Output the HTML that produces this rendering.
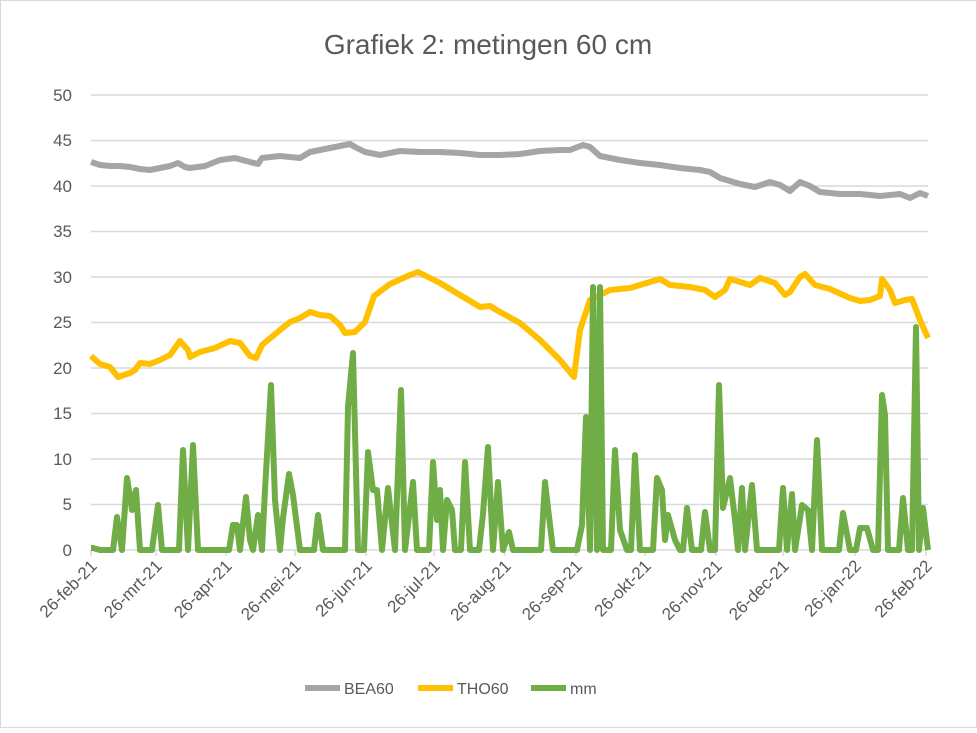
<!DOCTYPE html>
<html><head><meta charset="utf-8"><style>
body{margin:0;background:#fff}
svg text{font-family:"Liberation Sans",sans-serif;fill:#595959}
</style></head><body>
<svg width="977" height="728" viewBox="0 0 977 728" xmlns="http://www.w3.org/2000/svg">
<rect x="0.5" y="0.5" width="976" height="727" fill="#fff" stroke="#d9d9d9"/>
<text x="488" y="54" font-size="28" text-anchor="middle">Grafiek 2: metingen 60 cm</text>
<g stroke="#d9d9d9" stroke-width="1.5">
<line x1="91" x2="928" y1="95" y2="95"/><line x1="91" x2="928" y1="140.5" y2="140.5"/>
<line x1="91" x2="928" y1="186" y2="186"/><line x1="91" x2="928" y1="231.5" y2="231.5"/>
<line x1="91" x2="928" y1="277" y2="277"/><line x1="91" x2="928" y1="322.5" y2="322.5"/>
<line x1="91" x2="928" y1="368" y2="368"/><line x1="91" x2="928" y1="413.5" y2="413.5"/>
<line x1="91" x2="928" y1="459" y2="459"/><line x1="91" x2="928" y1="504.5" y2="504.5"/>
<line x1="91" x2="928" y1="550" y2="550"/>
</g>
<g stroke="#d9d9d9" stroke-width="1.5">
<line x1="91" x2="91" y1="550" y2="556"/><line x1="156" x2="156" y1="550" y2="556"/><line x1="226" x2="226" y1="550" y2="556"/><line x1="295" x2="295" y1="550" y2="556"/><line x1="366" x2="366" y1="550" y2="556"/><line x1="434" x2="434" y1="550" y2="556"/><line x1="505" x2="505" y1="550" y2="556"/><line x1="576" x2="576" y1="550" y2="556"/><line x1="645" x2="645" y1="550" y2="556"/><line x1="716" x2="716" y1="550" y2="556"/><line x1="783" x2="783" y1="550" y2="556"/><line x1="855" x2="855" y1="550" y2="556"/><line x1="926" x2="926" y1="550" y2="556"/>
</g>
<g font-size="17" text-anchor="end">
<text x="72" y="101">50</text><text x="72" y="146">45</text><text x="72" y="192">40</text><text x="72" y="237">35</text><text x="72" y="283">30</text><text x="72" y="328">25</text><text x="72" y="374">20</text><text x="72" y="419">15</text><text x="72" y="465">10</text><text x="72" y="510">5</text><text x="72" y="556">0</text>
</g>
<g font-size="17" text-anchor="end">
<text transform="translate(98,567) rotate(-45)">26-feb-21</text>
<text transform="translate(163,567) rotate(-45)">26-mrt-21</text>
<text transform="translate(233,567) rotate(-45)">26-apr-21</text>
<text transform="translate(302,567) rotate(-45)">26-mei-21</text>
<text transform="translate(373,567) rotate(-45)">26-jun-21</text>
<text transform="translate(441,567) rotate(-45)">26-jul-21</text>
<text transform="translate(512,567) rotate(-45)">26-aug-21</text>
<text transform="translate(583,567) rotate(-45)">26-sep-21</text>
<text transform="translate(652,567) rotate(-45)">26-okt-21</text>
<text transform="translate(723,567) rotate(-45)">26-nov-21</text>
<text transform="translate(790,567) rotate(-45)">26-dec-21</text>
<text transform="translate(862,567) rotate(-45)">26-jan-22</text>
<text transform="translate(933,567) rotate(-45)">26-feb-22</text>
</g>
<polyline fill="none" stroke="#a5a5a5" stroke-width="6" stroke-linejoin="round" points="91,162 100,165 110,166 120,166 130,167 140,169 150,170 160,168 170,166 178,163 185,167 190,168 205,166 220,160 235,158 250,162 258,164 262,158 280,156 300,158 310,152 330,148 350,144 355,147 365,152 380,155 400,151 420,152 440,152 460,153 480,155 500,155 520,154 540,151 560,150 570,150 583,145 590,147 600,156 620,160 640,163 660,165 680,168 700,170 710,172 720,178 740,184 755,187 770,182 780,185 790,191 800,182 810,186 820,192 840,194 860,194 880,196 900,194 910,198 920,193 928,196"/>
<polyline fill="none" stroke="#ffc000" stroke-width="6" stroke-linejoin="round" points="91,356 100,364 110,367 118,377 130,373 135,370 140,363 150,364 160,360 170,355 180,341 188,350 190,357 200,352 215,348 230,341 240,343 250,356 256,358 262,345 280,330 290,322 300,318 310,312 320,315 330,316 340,325 345,333 355,332 365,322 374,296 390,284 410,275 418,272 440,283 460,295 480,307 490,306 500,312 520,323 540,340 560,360 574,377 580,330 590,300 610,290 630,288 660,279 670,285 690,287 705,290 715,297 725,290 730,279 740,282 750,285 760,278 775,283 785,295 790,292 800,277 805,274 815,285 830,289 850,298 860,301 870,300 880,296 882,279 890,290 895,303 905,300 912,299 920,320 928,338"/>
<polyline fill="none" stroke="#70ad47" stroke-width="6" stroke-linejoin="round" points="91,548 93,548 100,550 113,550 117,517 122,550 127,478 132,510 136,490 140,550 152,550 158,505 162,550 179,550 183,450 188,550 193,445 198,550 229,550 233,525 237,525 240,550 246,497 250,540 253,550 258,515 262,550 265,490 271,385 275,500 280,550 283,518 289,474 293,495 300,550 314,550 318,515 323,550 345,550 348,407 353,353 358,550 364,550 368,452 373,490 377,490 382,550 388,488 395,550 401,390 405,550 413,482 417,550 429,550 433,462 437,520 440,490 443,550 447,500 452,510 455,550 461,550 465,462 470,550 479,550 483,514 488,447 493,550 498,482 503,550 509,532 513,550 541,550 545,482 550,525 553,550 577,550 582,525 586,417 590,550 593,287 597,550 600,287 603,550 611,550 615,450 620,530 627,550 631,550 635,455 640,550 653,550 657,478 662,490 665,540 668,515 675,540 680,550 683,550 687,508 692,550 701,550 705,512 710,550 715,550 719,385 723,508 730,478 735,520 738,550 742,488 745,550 752,485 757,550 779,550 783,488 787,550 792,494 795,550 802,505 808,510 812,550 817,440 822,550 839,550 843,513 850,550 856,550 860,528 867,528 873,550 878,550 882,395 885,415 888,550 899,550 903,498 908,550 912,550 916,327 919,550 923,508 928,550"/>
<g font-size="16">
<line x1="305" x2="340" y1="688" y2="688" stroke="#a5a5a5" stroke-width="6"/>
<text x="344" y="694">BEA60</text>
<line x1="418" x2="453" y1="688" y2="688" stroke="#ffc000" stroke-width="6"/>
<text x="457" y="694">THO60</text>
<line x1="531" x2="566" y1="688" y2="688" stroke="#70ad47" stroke-width="6"/>
<text x="570" y="694">mm</text>
</g>
</svg>
</body></html>
